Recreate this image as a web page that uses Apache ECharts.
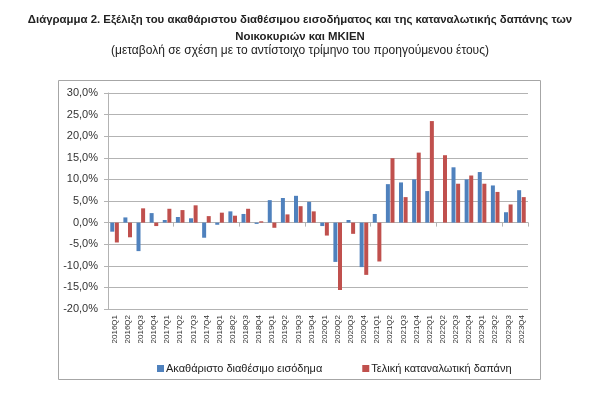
<!DOCTYPE html>
<html>
<head>
<meta charset="utf-8">
<script src="https://cdn.jsdelivr.net/npm/echarts@6/dist/echarts.min.js"></script>
<style>
  html, body { margin: 0; padding: 0; background: #fff; }
  #chart { width: 600px; height: 398px; }
</style>
</head>
<body>
<div id="chart"></div>
<script>
const categories = [
    "2016Q1", "2016Q2", "2016Q3", "2016Q4",
    "2017Q1", "2017Q2", "2017Q3", "2017Q4",
    "2018Q1", "2018Q2", "2018Q3", "2018Q4",
    "2019Q1", "2019Q2", "2019Q3", "2019Q4",
    "2020Q1", "2020Q2", "2020Q3", "2020Q4",
    "2021Q1", "2021Q2", "2021Q3", "2021Q4",
    "2022Q1", "2022Q2", "2022Q3", "2022Q4",
    "2023Q1", "2023Q2", "2023Q3", "2023Q4"
];

// Ακαθάριστο διαθέσιμο εισόδημα (%)
const income = [
    -2.1, 1.2, -6.6, 2.2,
    0.6, 1.3, 1.0, -3.5,
    -0.5, 2.6, 2.0, -0.3,
    5.2, 5.7, 6.2, 4.8,
    -0.8, -9.1, 0.6, -10.3,
    2.0, 8.9, 9.3, 10.0,
    7.3, 0.0, 12.8, 10.0,
    11.7, 8.6, 2.4, 7.5
];

// Τελική καταναλωτική δαπάνη (%)
const consumption = [
    -4.6, -3.4, 3.3, -0.8,
    3.2, 2.9, 4.0, 1.5,
    2.3, 1.6, 3.2, 0.3,
    -1.2, 1.9, 3.8, 2.6,
    -3.0, -15.6, -2.6, -12.1,
    -9.0, 14.9, 5.9, 16.2,
    23.5, 15.6, 9.0, 10.9,
    9.0, 7.1, 4.2, 5.9
];

const seriesNames = ["Ακαθάριστο διαθέσιμο εισόδημα", "Τελική καταναλωτική δαπάνη"];

const font = "Liberation Sans, Arial, sans-serif";
const grey = "#b3b3b3";

const chart = echarts.init(document.getElementById("chart"), null, { renderer: "canvas" });

chart.setOption({
    animation: false,
    textStyle: { fontFamily: font },
    title: [
        {
            text: "Διάγραμμα 2. Εξέλιξη του ακαθάριστου διαθέσιμου εισοδήματος και της καταναλωτικής δαπάνης των\nΝοικοκυριών και ΜΚΙΕΝ",
            left: 295, top: 6, textAlign: "center",
            textStyle: { fontSize: 11.4, fontWeight: "bold", color: "#222", lineHeight: 17, fontFamily: font }
        },
        {
            text: "(μεταβολή σε σχέση με το αντίστοιχο τρίμηνο του προηγούμενου έτους)",
            left: 295, top: 40, textAlign: "center",
            textStyle: { fontSize: 12, fontWeight: "normal", color: "#222", fontFamily: font }
        }
    ],
    graphic: [{
        type: "rect",
        shape: { x: 58.5, y: 80.5, width: 482, height: 299 },
        style: { fill: "none", stroke: "#a6a6a6", lineWidth: 1 },
        silent: true
    }],
    legend: {
        bottom: 19, left: 152,
        itemWidth: 7, itemHeight: 7, itemGap: 40,
        icon: "rect",
        textStyle: { fontSize: 11, color: "#222", fontFamily: font, padding: [0, 0, 0, -3] },
        data: seriesNames
    },
    grid: { left: 108, right: 72, top: 93, bottom: 89 },
    xAxis: [
        {
            type: "category",
            data: categories,
            axisLine: { onZero: true, lineStyle: { color: grey } },
            axisTick: { show: true, length: 4, lineStyle: { color: grey } },
            axisLabel: { show: false }
        },
        {
            type: "category",
            data: categories,
            position: "bottom",
            axisLine: { show: false, onZero: false },
            axisTick: { show: false },
            axisLabel: { rotate: 90, fontSize: 8, color: "#333", margin: 6, interval: 0 }
        }
    ],
    yAxis: {
        type: "value",
        min: -20, max: 30, interval: 5,
        axisLine: { show: true, lineStyle: { color: grey } },
        axisTick: { show: true, length: 4, lineStyle: { color: grey } },
        splitLine: { lineStyle: { color: grey, width: 1 } },
        axisLabel: {
            fontSize: 11, color: "#333", margin: 10,
            formatter: v => v.toFixed(1).replace(".", ",") + "%"
        }
    },
    series: [
        {
            name: seriesNames[0], type: "bar", data: income,
            barWidth: 4, barGap: "15%",
            itemStyle: { color: "#4f81bd" }
        },
        {
            name: seriesNames[1], type: "bar", data: consumption,
            barWidth: 4,
            itemStyle: { color: "#c0504d" }
        }
    ]
});
</script>
</body>
</html>
